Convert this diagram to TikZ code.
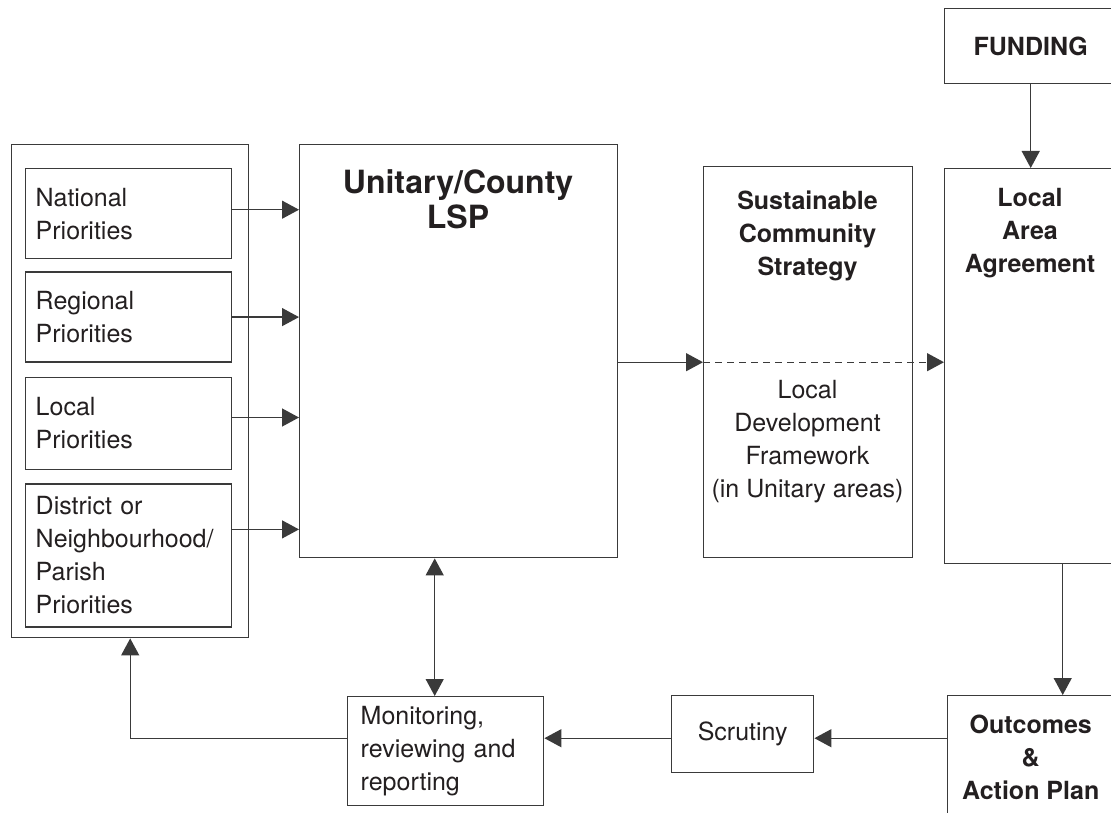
\documentclass[tikz,border=0pt]{standalone}
\usepackage{fontspec}
\setmainfont{TeX Gyre Heros}
\usetikzlibrary{positioning, calc, arrows.meta}

\definecolor{ink}{HTML}{231F20}
\definecolor{rule}{HTML}{3A3A3A}
\newcommand\txt{\fontsize{12.5}{16.5}\selectfont}
\newcommand\hdr{\fontsize{12.5}{16.5}\selectfont\bfseries}
\newcommand\bighdr{\fontsize{16}{17.5}\selectfont\bfseries}

\tikzset{
	box/.style={draw=rule, line width=0.7pt, inner sep=0pt, anchor=north west, text=ink},
	prio/.style={box, font=\txt, text width=93pt, align=left, inner xsep=5pt, minimum height=45pt},
	lbl/.style={text=ink, font=\txt, align=center},
	hd/.style={text=ink, font=\hdr, align=center},
	arr/.style={draw=rule, line width=0.65pt, -{Triangle[length=8.5pt,width=9pt]}},
	dbl/.style={draw=rule, line width=0.65pt, {Triangle[length=8.5pt,width=9pt]}-{Triangle[length=8.5pt,width=9pt]}}
}

\begin{document}
\begin{tikzpicture}[x=0.5pt, y=-0.5pt]
	\path[use as bounding box] (0,0) rectangle (1111,812);

	% priorities
	\node[box, minimum width=118.5pt, minimum height=246.5pt] (PRI) at (11,144) {};
	\node[prio] (NP) at (25,168) {National\\Priorities};
	\node[prio] (RP) [below=6pt of NP] {Regional\\Priorities};
	\node[prio, minimum height=46pt] (LP) [below=7pt of RP] {Local\\Priorities};
	\node[prio, minimum height=71.5pt] (DP) [below=6.5pt of LP] {District or\\Neighbourhood/\\Parish\\Priorities};

	% partnership and plans
	\node[box, minimum width=159pt, minimum height=206.5pt] (LSP) at (299,144) {};
	\node[text=ink, font=\bighdr, align=center] (LSPT) at (458,199) {Unitary/County\\LSP};
	\node[box, minimum width=104.5pt, minimum height=195.5pt] (SCS) at (703,166) {};
	\node[hd] (SCST) at (807.5,236) {Sustainable\\Community\\Strategy};
	\node[lbl] (LDF) at (807.5,442) {Local\\Development\\Framework\\(in Unitary areas)};
	\node[box, minimum width=86pt, minimum height=197.5pt] (LAA) at (944,168) {};
	\node[hd] (LAAT) at (1030,233) {Local\\Area\\Agreement};
	\node[box, hd, minimum width=86pt, minimum height=37.5pt] (FUND) at (944,8) {FUNDING};

	% review loop
	\node[box, hd, minimum width=83pt, minimum height=62pt] (OAP) at (947,695) {Outcomes\\\&\\Action Plan};
	\node[box, font=\txt, minimum width=71pt, minimum height=38.5pt] (SCR) at (671,695) {Scrutiny};
	\node[box, font=\txt, text width=85pt, align=left, inner xsep=6.5pt, minimum height=54.5pt] (MON) at (347,696) {Monitoring,\\reviewing and\\reporting};

	\draw[arr] ([yshift=2pt]NP.east) -- ([yshift=2pt]NP.east -| LSP.west);
	\draw[arr] (RP.east) -- (RP.east -| LSP.west);
	\draw[arr] ([yshift=3pt]LP.east) -- ([yshift=3pt]LP.east -| LSP.west);
	\draw[arr] ([yshift=13pt]DP.east) -- ([yshift=13pt]DP.east -| LSP.west);
	\draw[arr] (SCS.west -| LSP.east) -- (SCS.west);
	\draw[arr, dash pattern=on 3.5pt off 2.5pt] (SCS.west) -- (SCS.west -| LAA.west);
	\draw[arr] (FUND.south) -- (LAA.north);
	\draw[arr] ([xshift=16pt]LAA.south) -- ([xshift=16pt]LAA.south |- OAP.north);
	\draw[arr] ([yshift=-2pt]OAP.west |- SCR.east) -- ([yshift=-2pt]SCR.east);
	\draw[arr] ([yshift=-2pt]SCR.west) -- ([yshift=-2pt]SCR.west -| MON.east);
	\draw[arr] ([yshift=-2pt]MON.west |- SCR.west) -| (PRI.south);
	\draw[dbl] ([xshift=-5.5pt]MON.north |- LSP.south) -- ([xshift=-5.5pt]MON.north);
\end{tikzpicture}
\end{document}
